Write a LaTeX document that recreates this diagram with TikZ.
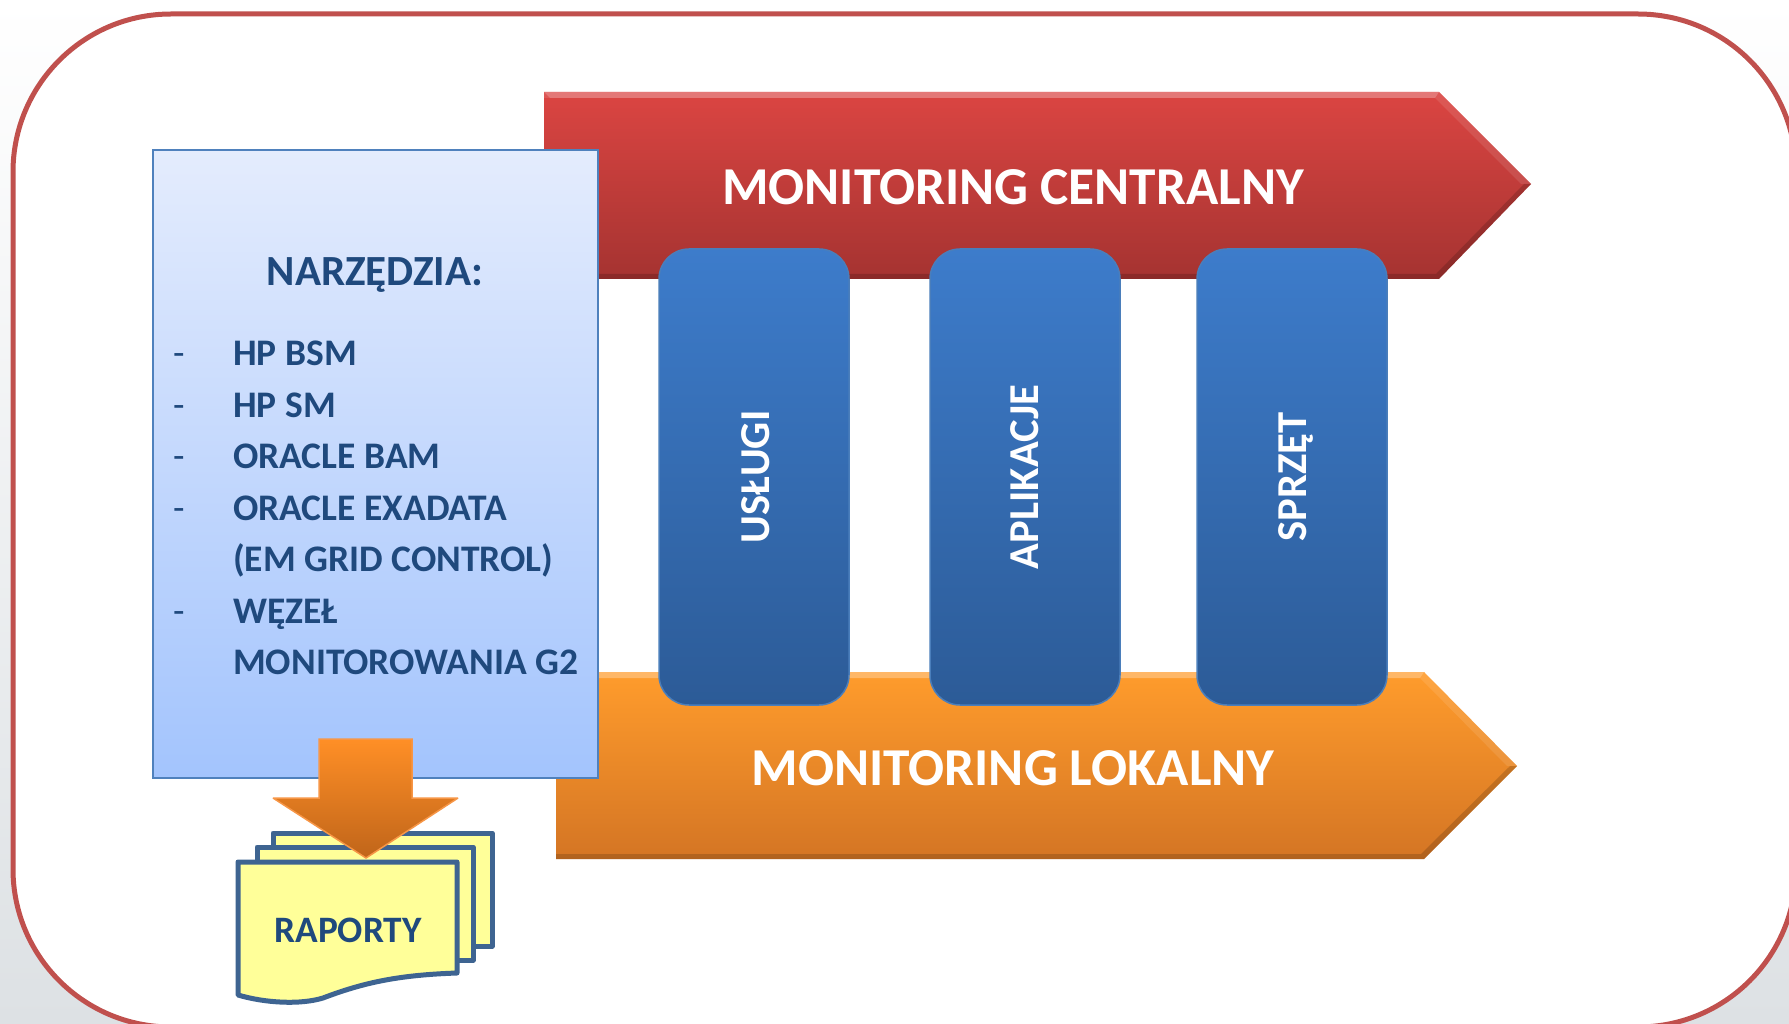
\documentclass[tikz,border=0pt]{standalone}
\usepackage{fontspec}
\setmainfont{Carlito}
\usepackage{tikz}
\usetikzlibrary{positioning,calc}
\definecolor{navy}{HTML}{1F497D}
\definecolor{framered}{HTML}{C0504D}
\definecolor{sheetblue}{HTML}{3E6491}
\definecolor{sheetfill}{HTML}{FFFF99}
\definecolor{redtop}{HTML}{DB4542}
\definecolor{redbot}{HTML}{A53331}
\definecolor{orangetop}{HTML}{FF9C2C}
\definecolor{orangebot}{HTML}{D47524}
\definecolor{coltop}{HTML}{3D7CCB}
\definecolor{colbot}{HTML}{2C5B97}
\definecolor{coledge}{HTML}{4A7EBB}
\definecolor{boxtop}{HTML}{E4ECFD}
\definecolor{boxbot}{HTML}{A3C4FD}
\definecolor{boxedge}{HTML}{4F81BD}
\definecolor{arrowtop}{HTML}{FF8F26}
\definecolor{arrowbot}{HTML}{C0651A}
\definecolor{arrowedge}{HTML}{F79646}
\definecolor{backgray}{HTML}{DDE1E4}
\tikzset{
	banner text/.style={text=white,font=\bfseries\fontsize{53.3}{64}\selectfont},
	column/.style={rounded corners=30pt,draw=coledge,line width=1.5pt,top color=coltop,bottom color=colbot,minimum width=190pt,minimum height=456pt,inner sep=0pt,text=white,font=\bfseries\fontsize{42.6}{50}\selectfont},
	tool/.style={text=navy,font=\bfseries\fontsize{37.5}{45}\selectfont,anchor=base west,inner sep=0pt},
	sheet/.style={draw=sheetblue,fill=sheetfill,line width=5pt,line join=round},
	light bevel/.style={fill=white,fill opacity=.1},
	top bevel/.style={fill=white,fill opacity=.2},
	dark bevel/.style={fill=black,fill opacity=.16},
}

\begin{document}
\begin{tikzpicture}[x=1pt,y=-1pt]
	\path[use as bounding box,clip] (0,0) rectangle (1789,1024);
	% tlo i ramka
	\shade[top color=white,bottom color=backgray,middle color=white!50!backgray] (0,0) rectangle (1789,1024);
	\draw[framered,fill=white,line width=5pt,rounded corners=158pt] (13,14) rectangle (1796,1027);

	% monitoring centralny
	\path[top color=redtop,bottom color=redbot]
		(544,92) -- (1439,92) -- (1531,184) -- (1439,279) -- (544,279) -- cycle;
	\path[light bevel] (544,92) -- (1439,92) -- (1531,184) -- (1521,184) -- (1435,98) -- (544,98) -- cycle;
	\path[top bevel] (544,92) -- (1439,92) -- (1435,98) -- (550,98) -- cycle;
	\path[dark bevel] (544,279) -- (1439,279) -- (1531,184) -- (1524,184) -- (1436,274) -- (544,274) -- cycle;
	\node[banner text] (central) at (1013,187) {MONITORING CENTRALNY};

	% monitoring lokalny
	\path[top color=orangetop,bottom color=orangebot]
		(556,672) -- (1424,672) -- (1517,766) -- (1424,859) -- (556,859) -- cycle;
	\path[light bevel] (556,672) -- (1424,672) -- (1517,766) -- (1507,766) -- (1420,678) -- (556,678) -- cycle;
	\path[top bevel] (556,672) -- (1424,672) -- (1420,678) -- (562,678) -- cycle;
	\path[dark bevel] (556,859) -- (1424,859) -- (1517,766) -- (1510,766) -- (1421,854) -- (556,854) -- cycle;
	\node[banner text] (lokalny) at (1013,768) {MONITORING LOKALNY};

	% kolumny
	\node[column] (uslugi) at (754,477) {\hspace*{3pt}\rotatebox{90}{USŁUGI}};
	\node[column,right=79.5pt of uslugi] (aplikacje) {\rotatebox{90}{APLIKACJE}};
	\node[column,right=75.5pt of aplikacje] (sprzet) {\hspace*{8pt}\rotatebox{90}{SPRZĘT}};

	% narzedzia
	\path[draw=boxedge,line width=2pt,top color=boxtop,bottom color=boxbot] (153,150) rectangle (598,778);
	\node[text=navy,font=\bfseries\fontsize{43}{50}\selectfont] (tools) at (375,275) {NARZĘDZIA:};
	\node[tool] (t1) at (233,366) {HP BSM};
	\node[tool] (t2) at (233,417) {HP SM};
	\node[tool] (t3) at (233,468) {ORACLE BAM};
	\node[tool] (t4) at (233,520) {ORACLE EXADATA};
	\node[tool] (t5) at (233,571) {(EM GRID CONTROL)};
	\node[tool] (t6) at (233,623) {WĘZEŁ};
	\node[tool] (t7) at (233,674) {MONITOROWANIA G2};
	\foreach \i in {1,2,3,4,6}
		\node[tool,font=\fontsize{37.5}{45}\selectfont] (d\i) at ($(t\i.base west)+(-60,0)$) {-};

	% raporty
	\draw[sheet] (273,833) rectangle (492,946);
	\draw[sheet] (257,847) rectangle (473,960);
	\draw[sheet] (238,862) -- (457,862) -- (457,973) .. controls (400,975) and (365,982) .. (323,998) .. controls (300,1005) and (265,1003) .. (238,995) -- cycle;
	\node[text=navy,font=\bfseries\fontsize{37.3}{44}\selectfont] (raporty) at (348,930) {RAPORTY};

	% strzalka
	\path[draw=arrowedge,line width=1.5pt,miter limit=2,top color=arrowtop,bottom color=arrowbot]
		(319,739) -- (412,739) -- (412,798) -- (458,798) -- (366,858) -- (273,798) -- (319,798) -- cycle;
\end{tikzpicture}
\end{document}
